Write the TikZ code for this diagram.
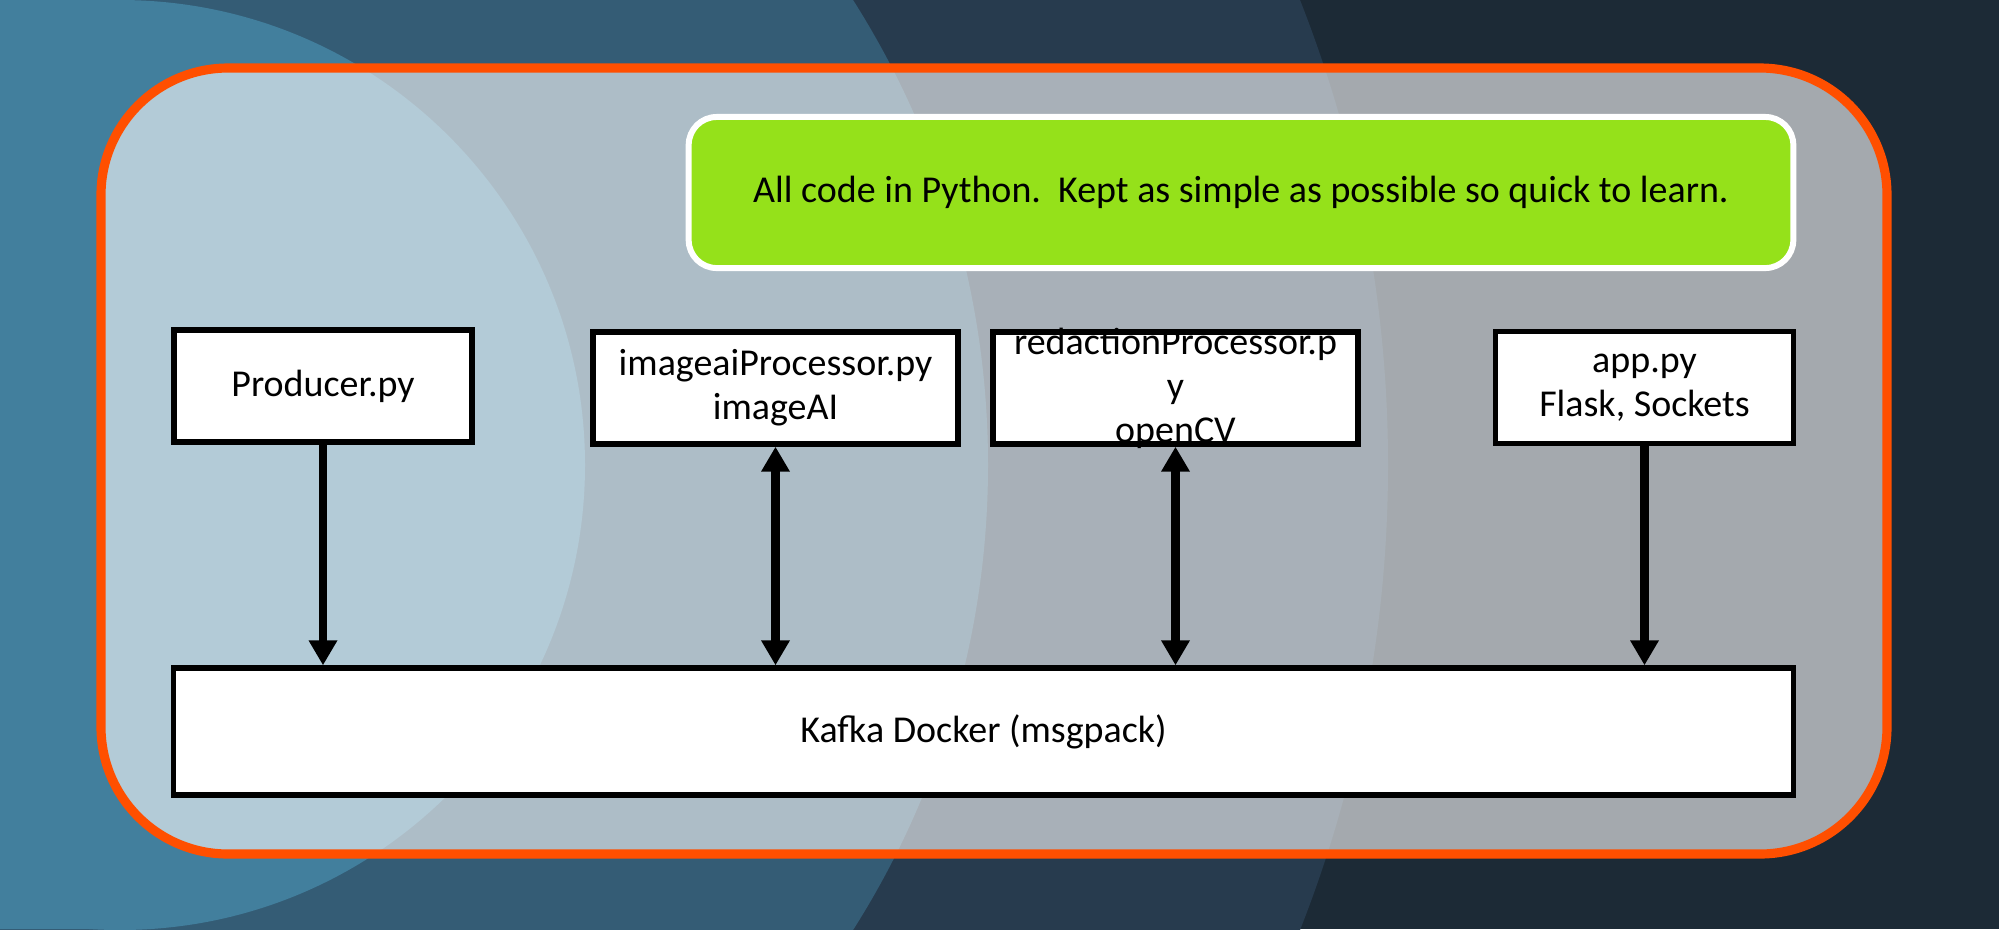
\documentclass[tikz,border=0pt]{standalone}
\usepackage{fontspec}
\setmainfont{Carlito}
\usetikzlibrary{arrows.meta}

\definecolor{bgone}{HTML}{427F9D}
\definecolor{bgtwo}{HTML}{345C75}
\definecolor{bgthree}{HTML}{273B4E}
\definecolor{bgfour}{HTML}{1C2A36}
\definecolor{panelorange}{HTML}{FF4F00}
\definecolor{notegreen}{HTML}{95E11A}

\begin{document}
\begin{tikzpicture}[x=0.01cm, y=-0.01cm,
    every node/.style={font=\fontsize{10.8pt}{12.5pt}\selectfont},
    panel/.style={draw=panelorange, line width=2.6pt, fill=white, fill opacity=0.6, rounded corners=1.27cm},
    note/.style={draw=white, fill=notegreen, line width=1.7pt, rounded corners=0.28cm, minimum width=11.04cm, minimum height=1.51cm},
    procbox/.style={draw=black, fill=white, line width=1.5pt, align=center, inner sep=0pt},
    smallbox/.style={minimum width=2.98cm, minimum height=1.12cm},
    widebox/.style={minimum width=3.65cm, minimum height=1.12cm},
    flow/.style={line width=2.3pt, -{Triangle[length=7.1pt, width=7.7pt]}},
    flowboth/.style={line width=2.3pt, {Triangle[length=7.1pt, width=7.7pt]}-{Triangle[length=7.1pt, width=7.7pt]}}]
          \useasboundingbox (0,0) rectangle (1999,929);

          % Background
          \begin{scope}
            \clip (0,0) rectangle (1999,929);
            \fill[bgfour] (0,0) rectangle (1999,929);
            \fill[bgthree] (120,465) circle[radius=1268];
            \fill[bgtwo] (120,465) circle[radius=868];
            \fill[bgone] (120,465) circle[radius=465];
            \fill[bgone] (0,0) rectangle (120,929);
          \end{scope}
          \draw[panel] (101,68) rectangle (1887,854);

          % Nodes
          \node[note] (note) at (1241,192.5) {All code in Python.\ \ Kept as simple as possible so quick to learn.};
          \node[procbox, smallbox] (producer) at (323,386) {Producer.py};
          \node[procbox, widebox] (imageai) at (775.5,388) {imageaiProcessor.py\\imageAI};
          \node[procbox, widebox, label={[align=center]center:redactionProcessor.p\\y\\openCV}] (redaction) at (1175.5,388) {};
          \node[procbox, smallbox] (app) at (1644.5,387.5) {app.py\\Flask, Sockets};
          \node[procbox, minimum width=16.19cm, minimum height=1.27cm] (kafka) at (983.5,731.5) {Kafka Docker (msgpack)};

          % Edges
          \draw[flow] (producer.south) -- (producer.south |- kafka.north);
          \draw[flowboth] (imageai.south) -- (imageai.south |- kafka.north);
          \draw[flowboth] (redaction.south) -- (redaction.south |- kafka.north);
          \draw[flow] (app.south) -- (app.south |- kafka.north);
\end{tikzpicture}
\end{document}
